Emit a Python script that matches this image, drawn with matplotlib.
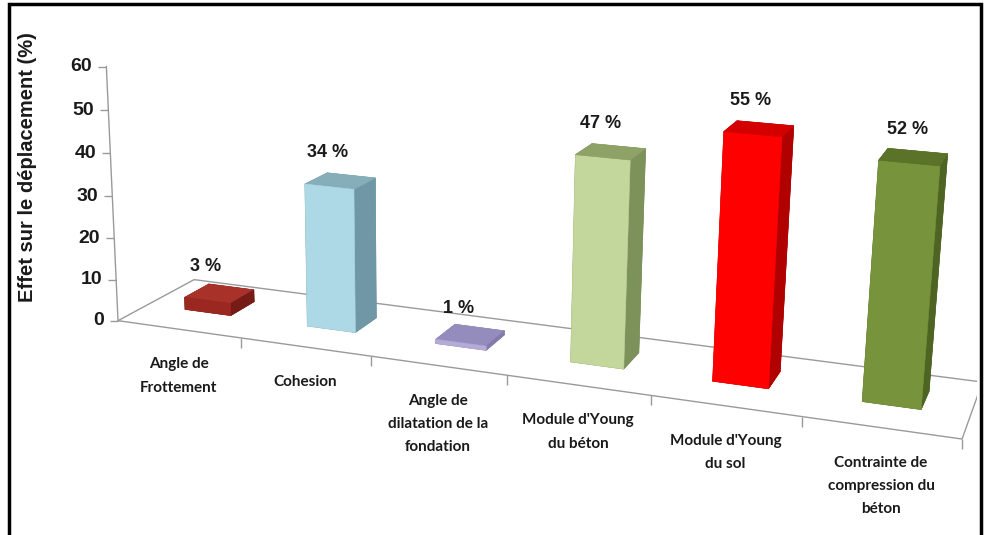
import numpy as np
import matplotlib
matplotlib.use("Agg")
import matplotlib.pyplot as plt
from matplotlib.patches import Rectangle
from mpl_toolkits.mplot3d import proj3d

# ---- data ----
categories = [
    "Angle de\nFrottement",
    "Cohesion",
    "Angle de\ndilatation de la\nfondation",
    "Module d'Young\ndu béton",
    "Module d'Young\ndu sol",
    "Contrainte de\ncompression du\nbéton",
]
values = [3, 34, 1, 47, 55, 52]
value_labels = ["3 %", "34 %", "1 %", "47 %", "55 %", "52 %"]
z_ticks = [0, 10, 20, 30, 40, 50, 60]
y_title = "Effet sur le déplacement (%)"

# face colours per bar: (front, top, side)
bar_colors = [
    ("#9A2820", "#A8322A", "#761C16"),
    ("#ADD8E6", "#86AEBA", "#6F97A5"),
    ("#B4ACD6", "#958CBE", "#847BAC"),
    ("#C3D69B", "#8EA267", "#7D925A"),
    ("#FF0000", "#D40000", "#B00000"),
    ("#77933C", "#5B7329", "#4E6423"),
]

W, H, DPI = 987, 535, 100
fig = plt.figure(figsize=(W / DPI, H / DPI), dpi=DPI)
fig.patch.set_facecolor("white")

n = len(values)
zmax = z_ticks[-1]

ax = fig.add_axes([0, 0, 1, 1], projection="3d", computed_zorder=False)
ax.set_axis_off()
ax.view_init(elev=15.37, azim=-70.6, roll=-1.0)
ax.set_proj_type("persp", focal_length=0.375)
ax.set_box_aspect((1.0, 0.181, 0.31))
ax.set_xlim(0, n)
ax.set_ylim(0, 1)
ax.set_zlim(0, zmax)

grey = "#9A9A9A"

# floor outline
ax.plot([0, n, n, 0, 0], [0, 0, 1, 1, 0], [0] * 5, color=grey, lw=1.0,
        zorder=1)
# category separators on the front edge
ax.plot(np.arange(1, n + 1), np.zeros(n), np.zeros(n), ls="none",
        marker=3, ms=7, mew=1.0, color=grey, zorder=1)
# vertical axis with its ticks
ax.plot([0, 0], [0, 0], [0, zmax], color=grey, lw=1.0, zorder=1)
ax.plot(np.zeros(len(z_ticks)), np.zeros(len(z_ticks)), z_ticks, ls="none",
        marker=0, ms=6, mew=1.0, color=grey, zorder=1)

# bars
bw, bd = 0.38, 0.33
xs = np.arange(n) + 0.5 - bw / 2
ys = np.full(n, 0.38)
face_cols = []
for front, top, side in bar_colors:
    # faces: -z, +z, -y, +y, -x, +x
    face_cols += [side, top, front, side, side, side]
ax.bar3d(xs, ys, np.zeros(n), bw, bd, values, color=face_cols,
         edgecolor=face_cols, linewidth=0.4, shade=False, zorder=2)


def to_px(x, y, z):
    px, py, _ = proj3d.proj_transform(np.atleast_1d(np.asarray(x, float)),
                                      np.atleast_1d(np.asarray(y, float)),
                                      np.atleast_1d(np.asarray(z, float)),
                                      ax.get_proj())
    return ax.transData.transform(np.column_stack([px, py]))


# position the box: floor corners and axis top onto the plotting frame
fig.canvas.draw()
anchors3d = np.array([(0, 0, 0), (n, 0, 0), (0, 1, 0), (n, 1, 0),
                      (0, 0, zmax)], float)
anchors_px = np.array([(118, 322), (962, 440), (190, 279), (983, 380),
                       (110, 67)], float)
anchors_px[:, 1] = H - anchors_px[:, 1]
p = to_px(anchors3d[:, 0], anchors3d[:, 1], anchors3d[:, 2])
bb = ax.bbox
f = (p - np.array([bb.x0, bb.y0])) / bb.width
k = len(f)
A = np.zeros((2 * k, 3))
b = np.concatenate([anchors_px[:, 0], anchors_px[:, 1]])
A[:k, 0] = 1
A[k:, 1] = 1
A[:k, 2] = f[:, 0]
A[k:, 2] = f[:, 1]
ox, oy, S_new = np.linalg.lstsq(A, b, rcond=None)[0]
ax.set_position([ox / W, oy / H, S_new / W, S_new / H])
fig.canvas.draw()


def label_at(x, y, z, s, dx, dy, **kw):
    q = to_px(x, y, z)[0]
    fig.text((q[0] + dx) / W, (q[1] + dy) / H, s, **kw)


# value labels above the front face of each bar
for i, (v, lab) in enumerate(zip(values, value_labels)):
    label_at(i + 0.5, ys[i], v, lab, -2, 34, ha="center", va="center",
             fontsize=13, fontweight="bold", family="Liberation Sans",
             color="#1a1a1a")

# category labels under the front edge
for i, cat in enumerate(categories):
    label_at(i + 0.5, 0, 0, cat, 0, -28, ha="center", va="top",
             fontsize=11, fontweight="bold", family="Lato",
             linespacing=1.85, color="#1a1a1a")

# vertical axis tick labels
for zt in z_ticks:
    label_at(0, 0, zt, str(zt), -14, 0, ha="right", va="center",
             fontsize=14, fontweight="bold", family="Liberation Sans",
             color="#1a1a1a")

fig.text(28 / W, 1 - 167 / H, y_title, rotation=90, ha="center",
         va="center", fontsize=14.5, fontweight="bold",
         family="Liberation Sans", color="#1a1a1a")

# outer frame
fig.add_artist(Rectangle((9 / W, -0.05), (981 - 9) / W, 1 - 4 / H + 0.05,
                         transform=fig.transFigure, fill=False,
                         edgecolor="black", lw=2.5))

fig.savefig("out.png", dpi=DPI, facecolor="white")
